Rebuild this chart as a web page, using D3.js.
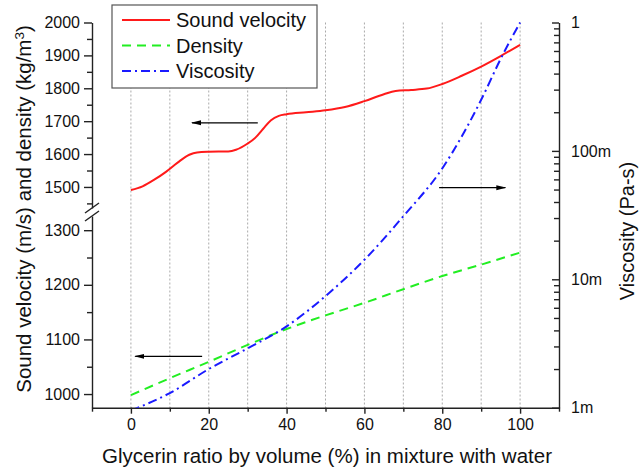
<!DOCTYPE html>
<html><head><meta charset="utf-8">
<script src="https://cdn.jsdelivr.net/npm/d3@7"></script>
<style>body{margin:0;background:#fff}svg{display:block}text{font-family:"Liberation Sans",Arial,sans-serif;fill:#111}</style>
</head><body><svg id="c" width="639" height="467"></svg>
<script>
// ---- data ----
const ratio = [0,3,6,9,12,15,17,20,25,27,30,32,34,36,38,40,45,50,55,60,65,68,72,76,80,85,90,95,100];
const soundVelocity = [1491,1502,1522,1546,1574,1598,1605,1607,1608,1613,1632,1650,1677,1703,1716,1721,1727,1733,1743,1761,1782,1792,1795,1799,1813,1838,1866,1898,1932];
const densRatio = [0,10,20,30,40,50,60,70,80,90,100];
const density = [998,1029,1059,1090,1119,1144,1167,1192,1216,1237,1259];
const viscRatio = [0,10,20,30,40,50,60,70,80,90,95,100];
const viscosity = [0.00095,0.0013,0.0020,0.0029,0.0043,0.0074,0.0142,0.031,0.073,0.25,0.52,1.0];
const xTicks = [0,20,40,60,80,100];
const upperTicks = [1500,1600,1700,1800,1900,2000];
const lowerTicks = [1000,1100,1200,1300];
const rightTicks = [0.001,0.01,0.1,1];
const rightTickLabels = ["1m","10m","100m","1"];
const seriesNames = ["Sound velocity","Density","Viscosity"];
// arrows: [x1, x2, value, axis]
const arrows = [[32.6,15.7,1695,"up"],[18.3,1.1,1069,"low"],[79.2,96.2,0.0517,"right"]];

(function(){
const svg = d3.select("#c");
const font = '"Liberation Sans",Arial,sans-serif';
const x = d3.scaleLinear().domain([-10,110]).range([92,559]);
const yUp = d3.scaleLinear().domain([1436,2000]).range([208,22.5]);
const yLow = d3.scaleLinear().domain([975,1326]).range([407.7,216]);
const yR = d3.scaleLog().domain([0.001,1]).range([407.7,22.5]);
const pTop = 22.5, pBottom = 407.7, pLeft = 92, pRight = 559;
const fmt = d3.format("d");

const defs = svg.append("defs");
defs.append("clipPath").attr("id","clip").append("rect")
  .attr("x",pLeft).attr("y",pTop-2).attr("width",pRight-pLeft).attr("height",pBottom-pTop+2);
defs.append("marker").attr("id","ah").attr("viewBox","0 0 10 10")
  .attr("refX",9).attr("refY",5).attr("markerWidth",10).attr("markerHeight",7).attr("orient","auto-start-reverse")
  .attr("markerUnits","userSpaceOnUse").attr("preserveAspectRatio","none")
  .append("path").attr("d","M0,1.5 L10,5 L0,8.5 Z").attr("fill","#000");

// grid
const gridVals = d3.range(0,101,10);
svg.append("g").selectAll("line").data(gridVals).join("line")
  .attr("x1",d=>x(d)).attr("x2",d=>x(d)).attr("y1",pTop).attr("y2",pBottom)
  .attr("stroke","#aaa").attr("stroke-width",1).attr("stroke-dasharray","2,2");

// bottom axis
svg.append("g").attr("transform",`translate(0,${pBottom})`)
  .call(d3.axisBottom(x).tickValues(xTicks).tickFormat(fmt).tickSizeInner(6).tickSizeOuter(0).tickPadding(5));
svg.append("g").attr("transform",`translate(0,${pBottom})`)
  .call(d3.axisBottom(x).tickValues([-10,10,30,50,70,90,110]).tickSizeInner(4).tickSizeOuter(0).tickFormat(""))
  .select(".domain").remove();

// left axis (upper & lower)
function leftAxis(scale, majors, minors){
  svg.append("g").attr("transform",`translate(${pLeft},0)`)
    .call(d3.axisLeft(scale).tickValues(majors).tickFormat(fmt).tickSizeInner(8).tickSizeOuter(0).tickPadding(4));
  svg.append("g").attr("transform",`translate(${pLeft},0)`)
    .call(d3.axisLeft(scale).tickValues(minors).tickSizeInner(5).tickFormat(""))
    .select(".domain").remove();
}
leftAxis(yUp, upperTicks, [1450,1550,1650,1750,1850,1950]);
leftAxis(yLow, lowerTicks, [1050,1150,1250]);
// break marks
[208,216].forEach(cy=>{
  svg.append("line").attr("x1",pLeft-7).attr("x2",pLeft+7).attr("y1",cy+5).attr("y2",cy-5)
    .attr("stroke","#222").attr("stroke-width",1.4);
});

// right axis
const minorR = [];
[0.001,0.01,0.1].forEach(d=>{for(let k=2;k<10;k++) minorR.push(d*k);});
svg.append("g").attr("transform",`translate(${pRight},0)`)
  .call(d3.axisRight(yR).tickValues(rightTicks).tickSizeInner(-7).tickSizeOuter(0).tickPadding(12)
    .tickFormat((d,i)=>rightTickLabels[i]));
svg.append("g").attr("transform",`translate(${pRight},0)`)
  .call(d3.axisRight(yR).tickValues(minorR).tickSizeInner(-5).tickFormat(""))
  .select(".domain").remove();

svg.selectAll(".tick text").attr("font-size",16).style("font-family",font).attr("fill","#111");
svg.selectAll(".domain, .tick line").attr("stroke","#222").attr("stroke-width",1.4);

// lines
const plot = svg.append("g").attr("clip-path","url(#clip)");
plot.append("path").datum(ratio.map((r,i)=>[r,soundVelocity[i]]))
  .attr("d",d3.line().x(d=>x(d[0])).y(d=>yUp(d[1])).curve(d3.curveMonotoneX))
  .attr("fill","none").attr("stroke","#ff1a1a").attr("stroke-width",2);
plot.append("path").datum(densRatio.map((r,i)=>[r,density[i]]))
  .attr("d",d3.line().x(d=>x(d[0])).y(d=>yLow(d[1])).curve(d3.curveMonotoneX))
  .attr("fill","none").attr("stroke","#22ee22").attr("stroke-width",2).attr("stroke-dasharray","9,6");
plot.append("path").datum(viscRatio.map((r,i)=>[r,viscosity[i]]))
  .attr("d",d3.line().x(d=>x(d[0])).y(d=>yR(d[1])).curve(d3.curveMonotoneX))
  .attr("fill","none").attr("stroke","#1a1aff").attr("stroke-width",2).attr("stroke-dasharray","9,4,2,4");

// arrows
arrows.forEach(a=>{
  const sc = a[3]==="up"?yUp:a[3]==="low"?yLow:yR;
  svg.append("line").attr("x1",x(a[0])).attr("x2",x(a[1])).attr("y1",sc(a[2])).attr("y2",sc(a[2]))
    .attr("stroke","#000").attr("stroke-width",1.3).attr("marker-end","url(#ah)");
});

// legend
const lg = svg.append("g");
lg.append("rect").attr("x",112).attr("y",5).attr("width",205).attr("height",83)
  .attr("fill","#fff").attr("stroke","#555").attr("stroke-width",1.2);
const styles = [["#ff1a1a",null],["#22ee22","9,6"],["#1a1aff","9,4,2,4"]];
seriesNames.forEach((n,i)=>{
  const cy = 20 + i*25.5;
  lg.append("line").attr("x1",122).attr("x2",170).attr("y1",cy).attr("y2",cy)
    .attr("stroke",styles[i][0]).attr("stroke-width",2).attr("stroke-dasharray",styles[i][1]);
  lg.append("text").attr("x",176).attr("y",cy+7).attr("font-size",20).text(n);
});

// axis titles
svg.append("text").attr("x",327).attr("y",463).attr("text-anchor","middle")
  .attr("font-size",20.5).text("Glycerin ratio by volume (%) in mixture with water");
const lt = svg.append("text").attr("transform","translate(31,209) rotate(-90)").attr("text-anchor","middle")
  .attr("font-size",20.5);
lt.append("tspan").text("Sound velocity (m/s) and density (kg/m");
lt.append("tspan").attr("dy",-7).attr("font-size",13.5).text("3");
lt.append("tspan").attr("dy",7).text(")");
svg.append("text").attr("transform","translate(634,231) rotate(-90)").attr("text-anchor","middle")
  .attr("font-size",20).text("Viscosity (Pa-s)");
})();
</script></body></html>
